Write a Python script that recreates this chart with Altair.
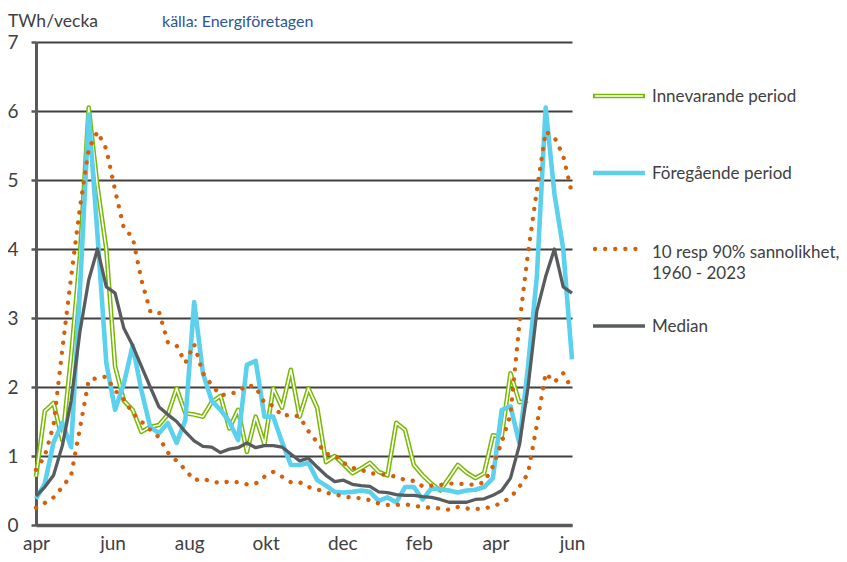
import json
import pandas as pd
import altair as alt

# ---------------- data (TWh per week, weekly points from April to June next year) ----------------
weeks = list(range(62))
month_labels = ["apr", "jun", "aug", "okt", "dec", "feb", "apr", "jun"]

median = [0.42, 0.55, 0.72, 1.15, 1.8, 2.8, 3.55, 4.0, 3.45, 3.36,
          2.85, 2.6, 2.3, 2.0, 1.71, 1.6, 1.5, 1.35, 1.22, 1.14,
          1.13, 1.05, 1.1, 1.12, 1.19, 1.12, 1.15, 1.15, 1.13, 1.03,
          0.93, 0.97, 0.84, 0.72, 0.63, 0.65, 0.59, 0.57, 0.56, 0.48,
          0.47, 0.44, 0.43, 0.43, 0.41, 0.40, 0.37, 0.33, 0.33, 0.33,
          0.37, 0.38, 0.43, 0.50, 0.68, 1.15, 2.0, 3.1, 3.6, 4.0,
          3.45, 3.36]

foregaende = [0.38, 0.6, 1.2, 1.48, 1.13, 3.4, 5.95, 4.2, 2.35, 1.67,
              2.05, 2.6, 1.95, 1.42, 1.33, 1.48, 1.19, 1.52, 3.23, 2.2,
              1.8, 1.67, 1.5, 1.23, 2.32, 2.38, 1.57, 1.57, 1.2, 0.87,
              0.87, 0.9, 0.65, 0.57, 0.48, 0.47, 0.48, 0.5, 0.48, 0.35,
              0.4, 0.33, 0.55, 0.55, 0.37, 0.53, 0.52, 0.5, 0.47, 0.5,
              0.51, 0.55, 0.68, 1.67, 1.72, 1.19, 2.3, 3.6, 6.05, 4.8,
              4.0, 2.4]

innevarande = [0.7, 1.65, 1.77, 1.23, 2.45, 3.9, 6.05, 4.9, 4.0, 2.3,
               1.8, 1.67, 1.35, 1.42, 1.45, 1.6, 1.98, 1.62, 1.6, 1.57,
               1.78, 1.87, 1.4, 1.67, 1.06, 1.57, 1.17, 1.98, 1.7, 2.25,
               1.57, 1.98, 1.7, 0.91, 1.0, 0.88, 0.75, 0.82, 0.9, 0.77,
               0.72, 1.48, 1.38, 0.87, 0.72, 0.6, 0.5, 0.68, 0.87, 0.76,
               0.68, 0.75, 1.3, 1.28, 2.2, 1.78, 1.8]

p90 = [0.8, 1.0, 1.45, 2.55, 3.6, 4.6, 5.45, 5.7, 5.45, 4.85,
       4.3, 4.17, 3.55, 3.1, 3.09, 2.65, 2.6, 2.35, 2.62, 2.2,
       2.03, 1.88, 1.9, 1.93, 2.03, 2.0, 1.77, 1.73, 1.58, 1.6,
       1.57, 1.36, 1.2, 1.03, 1.01, 0.9, 0.83, 0.8, 0.75, 0.74,
       0.72, 0.7, 0.65, 0.64, 0.56, 0.57, 0.58, 0.6, 0.6, 0.59,
       0.58, 0.62, 0.85, 1.2, 1.6, 2.9, 3.95, 4.85, 5.7, 5.62,
       5.35, 4.8]

p10 = [0.25, 0.32, 0.4, 0.55, 0.72, 1.4, 2.1, 2.13, 2.15, 1.95,
       1.82, 1.62, 1.5, 1.38, 1.27, 1.05, 0.93, 0.8, 0.65, 0.67,
       0.63, 0.61, 0.63, 0.62, 0.59, 0.6, 0.7, 0.77, 0.7, 0.62,
       0.62, 0.55, 0.52, 0.47, 0.44, 0.42, 0.39, 0.39, 0.36, 0.31,
       0.29, 0.29, 0.3, 0.28, 0.26, 0.25, 0.24, 0.22, 0.26, 0.24,
       0.23, 0.24, 0.27, 0.32, 0.4, 0.55, 0.75, 1.45, 2.2, 2.07,
       2.2, 1.97]

legend_labels = ["Innevarande period", "Föregående period",
                 "10 resp 90% sannolikhet,", "1960 - 2023", "Median"]

# ---------------- styling ----------------
GREEN = "#76B900"
BLUE = "#5CD1EE"
ORANGE = "#D5600C"
GREY = "#595C5F"
TEXT = "#404040"
AXIS = "#595959"

W, H = 536, 483
X_MAX = weeks[-1]
step = X_MAX / 7
tick_values = [round(k * step, 4) for k in range(len(month_labels))]

x_enc = alt.X(
    "week:Q",
    scale=alt.Scale(domain=[0, X_MAX], nice=False, zero=False),
    axis=alt.Axis(values=tick_values, title=None, grid=False, ticks=False,
                  labelExpr=f"{json.dumps(month_labels)}[round(datum.value / {step})]",
                  domainColor=AXIS, domainWidth=3.5, labelFontSize=19,
                  labelColor=TEXT, labelPadding=9, labelFlush=False,
                  labelOverlap=False),
)
y_enc = alt.Y(
    "value:Q",
    scale=alt.Scale(domain=[0, 7], nice=False),
    axis=alt.Axis(values=list(range(8)), title=None, grid=True,
                  gridColor="#404040", gridWidth=1.8,
                  domainColor=AXIS, domainWidth=3,
                  tickColor=AXIS, tickSize=5, tickWidth=2.5,
                  labelFontSize=19, labelColor=TEXT, labelPadding=13,
                  labelFlush=False, labelOverlap=False),
)


def df(vals):
    return pd.DataFrame({"week": weeks[:len(vals)], "value": vals})


def line(vals, **kw):
    return alt.Chart(df(vals)).mark_line(strokeJoin="round", **kw).encode(x=x_enc, y=y_enc)


dot = dict(color=ORANGE, strokeWidth=4.3, strokeDash=[0.1, 10], strokeCap="round")

layers = [
    line(innevarande, color=GREEN, strokeWidth=4.6),
    line(innevarande, color="white", strokeWidth=1.6),
    line(foregaende, color=BLUE, strokeWidth=4.6),
    line(p90, **dot),
    line(p10, **dot),
    line(median, color=GREY, strokeWidth=3.3),
]

one = pd.DataFrame({"k": [0]})


def rule(x1, x2, y, **kw):
    return alt.Chart(one).mark_rule(**kw).encode(
        x=alt.value(x1), x2=alt.value(x2), y=alt.value(y))


def label(x, y, txt, size=17, color=TEXT, baseline="middle"):
    return alt.Chart(one).mark_text(align="left", baseline=baseline, fontSize=size,
                                    color=color).encode(
        x=alt.value(x), y=alt.value(y), text=alt.value(txt))


LX1, LX2, TX = 557, 609, 616
legend = [
    rule(LX1, LX2, 54, color=GREEN, strokeWidth=4.6),
    rule(LX1 + 2, LX2 - 2, 54, color="white", strokeWidth=1.6),
    label(TX, 55, legend_labels[0]),
    rule(LX1, LX2, 131, color=BLUE, strokeWidth=4.6),
    label(TX, 132, legend_labels[1]),
    rule(LX1 + 2, LX2 - 4, 207, **dot),
    label(TX, 211, legend_labels[2]),
    label(TX, 232, legend_labels[3]),
    rule(LX1, LX2, 284, color=GREY, strokeWidth=3.5),
    label(TX, 285, legend_labels[4]),
    label(-28, -15, "TWh/vecka", size=17.5, baseline="alphabetic"),
    label(126, -15, "källa: Energiföretagen", size=16, color="#2F5597",
          baseline="alphabetic"),
]

chart = alt.layer(*layers, *legend).properties(
    width=W, height=H,
    autosize=alt.AutoSizeParams(type="none"),
    padding={"left": 28, "top": 34, "right": 267, "bottom": 29},
).configure(font="Lato").configure_view(stroke=None)

chart.save("out.html", embed_options={"renderer": "svg", "actions": False})
